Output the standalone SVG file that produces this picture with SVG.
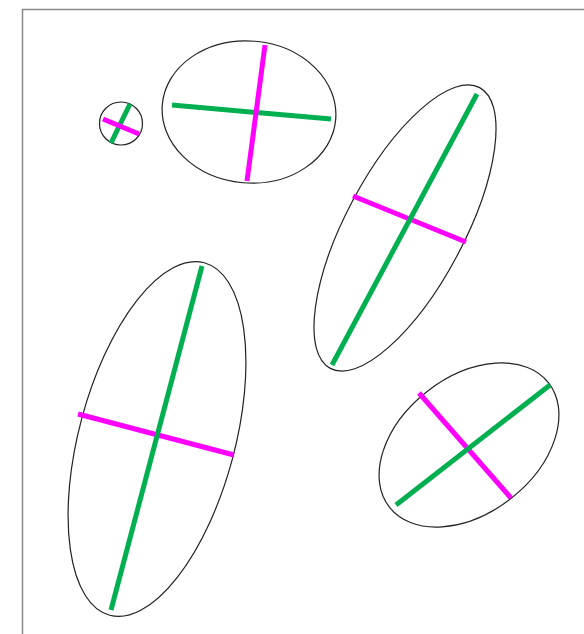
<svg xmlns="http://www.w3.org/2000/svg" width="584" height="634" viewBox="0 0 584 634">
<style>
.frame{fill:none;stroke:#888;stroke-width:1.5}
.ell{fill:none;stroke:#222;stroke-width:1.2}
.maj{stroke:#00b050;stroke-width:5;stroke-linecap:butt}
.min{stroke:#ff00ff;stroke-width:5;stroke-linecap:butt}
</style>
<rect width="584" height="634" fill="#fff"/>
<rect class="frame" x="22.5" y="9.5" width="600" height="700"/>
<g id="e1">
<circle class="ell" cx="121" cy="123.5" r="21.5"/>
<line class="maj" x1="130" y1="104" x2="111" y2="143"/>
<line class="min" x1="103" y1="119" x2="139" y2="134"/>
</g>
<g id="e2">
<ellipse class="ell" cx="249" cy="112" rx="87" ry="71" transform="rotate(5 249 112)"/>
<line class="maj" x1="172" y1="105" x2="331" y2="119"/>
<line class="min" x1="265" y1="45" x2="247" y2="181"/>
</g>
<g id="e3">
<ellipse class="ell" cx="405" cy="228" rx="159" ry="59" transform="rotate(-62 405 228)"/>
<line class="min" x1="353" y1="196" x2="466" y2="242"/>
<line class="maj" x1="477" y1="94" x2="332" y2="365"/>
</g>
<g id="e4">
<ellipse class="ell" cx="157" cy="439" rx="182.5" ry="78" transform="rotate(-75 157 439)"/>
<line class="min" x1="78" y1="414" x2="234" y2="455"/>
<line class="maj" x1="202" y1="266" x2="111" y2="610"/>
</g>
<g id="e5">
<ellipse class="ell" cx="469" cy="445" rx="101" ry="68" transform="rotate(-38 469 445)"/>
<line class="min" x1="419" y1="393" x2="511" y2="498"/>
<line class="maj" x1="550" y1="385" x2="396" y2="505"/>
</g>
</svg>
